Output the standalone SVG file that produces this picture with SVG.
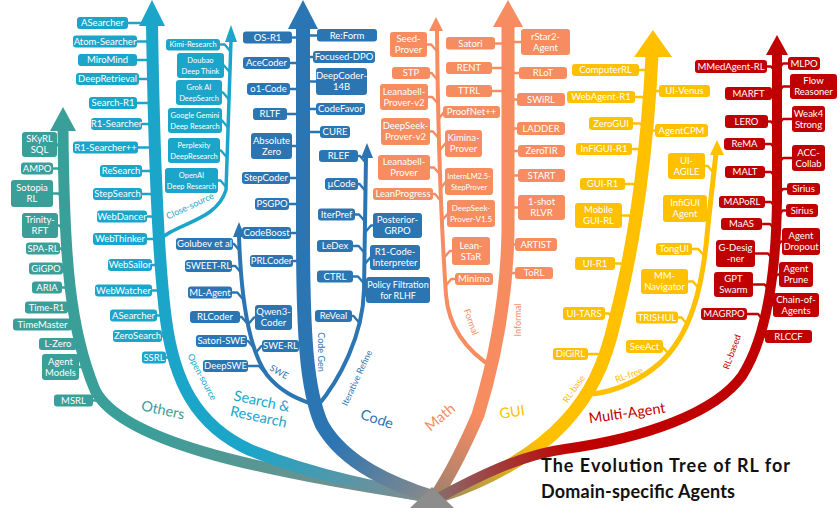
<svg xmlns="http://www.w3.org/2000/svg" width="840" height="522" viewBox="0 0 840 522">
<defs>
<style>
text{font-family:Lato,"Liberation Sans",sans-serif}
.t{fill:#fff;font-size:9.5px;text-anchor:middle}
.ts{fill:#fff;font-size:7.5px;text-anchor:middle}
.t8{fill:#fff;font-size:8px;text-anchor:middle}
.t9{fill:#fff;font-size:9px;text-anchor:middle}
rect{rx:3px;ry:3px}
.nT rect{fill:#3A9E99}.nC rect{fill:#1BA5C9}.nB rect{fill:#2B75B3}.nS rect{fill:#F68C60}.nG rect{fill:#FFC000}.nR rect{fill:#C00000}
.k{fill:none;stroke-width:2.4;stroke-linejoin:round}
.s{fill:none;stroke-linejoin:round}
.T{stroke:#3A9E99}.C{stroke:#1BA5C9}.B{stroke:#2B75B3}.S{stroke:#F68C60}.G{stroke:#FFC000}.R{stroke:#C00000}
.fT{fill:#3A9E99}.fC{fill:#1BA5C9}.fB{fill:#2B75B3}.fS{fill:#F68C60}.fG{fill:#FFC000}.fR{fill:#C00000}
.big{font-size:14.5px;text-anchor:middle}
.sm{font-size:9px;text-anchor:middle}
.title{font-size:18px;font-weight:bold;fill:#111}
</style>
<linearGradient id="gT" gradientUnits="userSpaceOnUse" x1="150" y1="430" x2="430" y2="497"><stop offset="0" stop-color="#3A9E99"/><stop offset="1" stop-color="#8a8a8a"/></linearGradient>
<linearGradient id="gC" gradientUnits="userSpaceOnUse" x1="250" y1="450" x2="430" y2="497"><stop offset="0" stop-color="#1BA5C9"/><stop offset="1" stop-color="#8a8a8a"/></linearGradient>
<linearGradient id="gB" gradientUnits="userSpaceOnUse" x1="335" y1="440" x2="432" y2="497"><stop offset="0" stop-color="#2B75B3"/><stop offset="1" stop-color="#8a8a8a"/></linearGradient>
<linearGradient id="gS" gradientUnits="userSpaceOnUse" x1="478" y1="420" x2="436" y2="496"><stop offset="0" stop-color="#F68C60"/><stop offset="1" stop-color="#a08070"/></linearGradient>
<linearGradient id="gG" gradientUnits="userSpaceOnUse" x1="545" y1="450" x2="440" y2="496"><stop offset="0" stop-color="#FFC000"/><stop offset="1" stop-color="#9a8a60"/></linearGradient>
<linearGradient id="gR" gradientUnits="userSpaceOnUse" x1="580" y1="455" x2="440" y2="497"><stop offset="0" stop-color="#C00000"/><stop offset="1" stop-color="#8a6a6a"/></linearGradient>
</defs>
<rect x="0" y="0" width="840" height="522" fill="#fff" style="rx:0"/>

<g id="connectors">
<!-- main stems -->
<path class="s" stroke="url(#gT)" stroke-width="11" d="M63 128 C64 260,70 330,95 390 C120 440,250 470,430 497"/>
<path class="s" stroke="url(#gC)" stroke-width="12" d="M152 24 C154 150,158 260,166 320 C174 380,195 425,250 450 C320 478,390 490,430 497"/>
<path class="s C" stroke-width="3.5" d="M157 242 C176 222,216 222,226 190 L231 40"/>
<path class="s" stroke="url(#gB)" stroke-width="14" d="M303 27 L303 230 C303 330,306 390,322 425 C345 465,395 485,432 497"/>
<path class="s B" stroke-width="4" d="M239 236 C241 300,249 350,267 375 C281 392,296 398,309 403"/>
<path class="s B" stroke-width="4" d="M366 157 L364 290 C363 335,340 380,316 408"/>
<path class="s" stroke="url(#gS)" stroke-width="13" d="M508 25 L508 230 C507 300,495 360,478 415 C465 445,450 475,436 496"/>
<path class="s S" stroke-width="4" d="M437 30 C438 150,443 250,446 295 C449 330,468 352,494 368"/>
<path class="s" stroke="url(#gG)" stroke-width="13" d="M652 55 C648 140,636 240,615 320 C605 365,590 395,565 422 C535 455,485 482,440 496"/>
<path class="s G" stroke-width="5" d="M716 153 L708 225 C703 290,690 335,660 363 C638 382,615 391,593 394"/>
<path class="s" stroke="url(#gR)" stroke-width="10" d="M777 53 L777 200 C776 280,765 340,742 376 C715 413,645 438,565 449 C520 455,475 478,440 497"/>
<!-- arrowheads -->
<polygon class="fT" points="63,107 76,131 50,131"/>
<polygon class="fC" points="152,0 165,26 139,26"/>
<polygon class="fC" points="231,25 237,42 225,42"/>
<polygon class="fB" points="303,0 318,29 288,29"/>
<polygon class="fB" points="239,222 245,237 233,237"/>
<polygon class="fB" points="367,143 373,158 361,158"/>
<polygon class="fS" points="436,17 443,31 429,31"/>
<polygon class="fS" points="508,0 523,27 493,27"/>
<polygon class="fG" points="653,30 672,57 634,57"/>
<polygon class="fG" points="717,140 724,155 710,155"/>
<polygon class="fR" points="777,35 788,55 766,55"/>
<polygon fill="#8d8d8d" points="410,508 432,487 454,508"/>
<!-- stubs: Others -->
<path class="k T" d="M56 144.5 H57.5 L63.5 151.5 M52 168.5 H58 L64 175.5 M52 193.5 H58.5 L64.5 200.5 M57 225.5 H59.5 L65.5 232.5 M59 248.5 H61 L67 255.5 M62 268.5 H63 L69 275.5 M61 287.5 H65 L71 294.5 M67 307.5 H67.5 L73.5 314.5 M71 324.5 L77 331.5 M76 344 L82 351 M78 367 H82.5 L88.5 374 M92 400.5 H97 L103 407.5"/>
<!-- stubs: Search open-source -->
<path class="k C" d="M127 23 H146 L152 30 M136 41.5 H146.5 L152.5 48.5 M136 60 H147 L153 67 M138 79 H147.5 L153.5 86 M136 103 H148 L154 110 M141 124 H148.5 L154.5 131 M137 147.5 H149.3 L155.3 154.5 M141 171 H150 L156 178 M141 194 H151 L157 201 M146 216.5 H152 L158 223.5 M146 239 H153.5 L159.5 246 M151 265 H155.3 L161.3 272 M151 290.5 H157.5 L163.5 297.5 M156 315.5 H160.5 L166.5 322.5 M161 336 H164 L170 343 M165 357.5 H168.5 L174.5 364.5"/>
<!-- stubs: close-source -->
<path class="k C" stroke-width="2" d="M219 44.5 H224.6 L230.6 51.5 M223 65.5 H224 L230 72.5 M221 92.5 H223 L229 99.5 M221 120.5 H222 L228 127.5 M219 150.5 H221 L227 157.5 M217 180.5 H220.5 L226.5 187.5"/>
<!-- stubs: Code gen -->
<path class="k B" d="M291 37.5 H297 L303 44.5 M289 63 H297 L303 70 M289 89 H297 L303 96 M286 114 H297 L303 121 M291 146 H297 L303 153 M289 178 H297 L303 185 M288 204 H297 L303 211 M290 233 H297 L303 240 M292 261 H297 L303 268 M318 35.5 H309 L303 42.5 M314 57 H309 L303 64 M317 81.5 H309 L303 88.5 M317 109 H309 L303 116 M321 132 H309 L303 139"/>
<!-- stubs: SWE -->
<path class="k B" d="M232 244 H234 L240 251 M231 266 H235.3 L241.3 273 M231 292.5 H237.3 L243.3 299.5 M239 317 H241.7 L247.7 324 M246 341 H248 L254 348 M247 366 H259 L265 373 M256 317.5 H254 L248 324.5 M263 346 H261.5 L255.5 353"/>
<!-- stubs: Iterative refine -->
<path class="k B" d="M357 156 H360 L366 163 M357 184 H359.5 L365.5 191 M354 214.5 H359 L365 221.5 M352 246 H358.6 L364.6 253 M352 276.5 H358 L364 283.5 M351 316 H353.5 L359.5 323 M374 225.5 H371 L365 232.5 M371 257.5 H370.4 L364.4 264.5 M367 290 L364 297"/>
<!-- stubs: Math formal -->
<path class="k S" d="M426 44.5 H431.2 L437.2 51.5 M429 73 H431.6 L437.6 80 M427 97 H432.2 L438.2 104 M429 131.5 H433 L439 138.5 M429 167.5 H434 L440 174.5 M432 194 H435 L441 201 M444 112 L438.6 119 M446 143.5 H445.4 L439.4 150.5 M446 181.5 L440.6 188.5 M448 213.5 L442 220.5 M453 251 H449.8 L443.8 258 M456 279 H451.3 L445.3 286"/>
<!-- stubs: Math informal -->
<path class="k S" d="M494 43.5 H502 L508 50.5 M491 68 H502 L508 75 M491 91 H502 L508 98 M522 42 H514 L508 49 M520 73 H514 L508 80 M518 99.5 H514 L508 106.5 M518 128.5 H514 L508 135.5 M519 151 H514 L508 158 M519 175.5 H514 L508 182.5 M519 207.5 H514 L508 214.5 M516 244.5 H513.4 L507.4 251.5 M516 273 H511.3 L505.3 280"/>
<!-- stubs: GUI -->
<path class="k G" d="M638 70 H645 L651 77 M634 97 H642.6 L648.6 104 M632 123.5 H640.5 L646.5 130.5 M631 149 H637.8 L643.8 156 M624 184 H633.9 L639.9 191 M621 215.5 H629 L635 222.5 M614 263.5 H621 L627 270.5 M604 313.5 H609 L615 320.5 M587 354 H598 L604 361 M660 91 H655.5 L649.5 98 M656 130.5 H651.5 L645.5 137.5"/>
<path class="k G" d="M704 166 H707.8 L713.8 173 M706 208.5 L709 215.5 M691 249 H698.3 L704.3 256 M687 281.5 H693 L699 288.5 M677 317.5 H681.5 L687.5 324.5 M662 346.5 L668.5 353.5"/>
<!-- stubs: Multi-agent -->
<path class="k R" d="M766 66.5 H771 L777 73.5 M771 93.5 L777 100.5 M767 121.5 H771 L777 128.5 M764 144 H771 L777 151 M764 172 H771 L777 179 M764 202 H771 L777 209 M761 224 H770 L776 231 M754 253.5 H768 L774 260.5 M752 284.5 H764.5 L770.5 291.5 M746 314 H758 L764 321 M789 63.5 H783 L777 70.5 M791 86.5 H783 L777 93.5 M793 119 H783 L777 126 M793 158 H783 L777 165 M788 189 H783 L777 196 M787 210.5 H782.7 L776.7 217.5 M783 241.5 H781 L775 248.5 M780 274.5 H777.5 L771.5 281.5 M774 305 H772 L766 312 M766 336.5 H763 L757 343.5"/>
</g>

<g id="labels">
<text class="big fT" transform="rotate(12 163 410)" x="163" y="415">Others</text>
<text class="big fC" transform="rotate(12 260 410)" x="260" y="406">Search &amp;<tspan x="260" y="422">Research</tspan></text>
<text class="sm fC" transform="rotate(62 202 377)" x="202" y="380">Open-source</text>
<text class="sm fC" transform="rotate(-25 190 206)" x="190" y="209">Close-source</text>
<text class="sm fB" transform="rotate(30 279 372)" x="279" y="375">SWE</text>
<text class="sm fB" transform="rotate(90 321 352)" x="321" y="355">Code Gen</text>
<text class="sm fB" transform="rotate(-65 357 378)" x="357" y="381">Iterative Refine</text>
<text class="big fB" transform="rotate(18 377 419)" x="377" y="424">Code</text>
<text class="sm fS" transform="rotate(70 471 322)" x="471" y="325">Formal</text>
<text class="sm fS" transform="rotate(-90 518 320)" x="518" y="323">Informal</text>
<text class="big fS" transform="rotate(-40 440 417)" x="440" y="422">Math</text>
<text class="big fG" transform="rotate(-8 512 412)" x="512" y="417">GUI</text>
<text class="sm fG" transform="rotate(-55 574 389)" x="574" y="392">RL-base</text>
<text class="sm fG" transform="rotate(-20 629 375)" x="629" y="378">RL-free</text>
<text class="big fR" transform="rotate(-8 627 413)" x="627" y="418">Multi-Agent</text>
<text class="sm fR" transform="rotate(-70 732 352)" x="732" y="355">RL-based</text>
<text class="title" x="541" y="472" textLength="249" lengthAdjust="spacing">The Evolution Tree of RL for</text>
<text class="title" x="541" y="498" textLength="194" lengthAdjust="spacing">Domain-specific Agents</text>
</g>

<!-- Others -->
<g id="n_skyrl" class="nT"><rect x="22" y="132" width="35" height="25"/><text class="t" x="39.5" y="142.4">SKyRL<tspan x="39.5" y="153.4">SQL</tspan></text></g>
<g id="n_ampo" class="nT"><rect x="21" y="162.5" width="32" height="12"/><text class="t" x="37" y="171.9">AMPO</text></g>
<g id="n_sotopia" class="nT"><rect x="11" y="180" width="42" height="27"/><text class="t" x="32" y="191.4">Sotopia<tspan x="32" y="202.4">RL</tspan></text></g>
<g id="n_trinity" class="nT"><rect x="22" y="213" width="36" height="25"/><text class="t" x="40" y="223.4">Trinity-<tspan x="40" y="234.4">RFT</tspan></text></g>
<g id="n_sparl" class="nT"><rect x="26" y="242.5" width="34" height="12"/><text class="t" x="43" y="251.9">SPA-RL</text></g>
<g id="n_gigpo" class="nT"><rect x="29" y="262.5" width="34" height="12"/><text class="t" x="46" y="271.9">GiGPO</text></g>
<g id="n_aria" class="nT"><rect x="32" y="281.5" width="30" height="12"/><text class="t" x="47" y="290.9">ARIA</text></g>
<g id="n_timer1" class="nT"><rect x="25" y="301.5" width="43" height="12"/><text class="t" x="46.5" y="310.9">Time-R1</text></g>
<g id="n_timemaster" class="nT"><rect x="13" y="318.5" width="59" height="12"/><text class="t" x="42.5" y="327.9">TimeMaster</text></g>
<g id="n_lzero" class="nT"><rect x="39" y="338" width="38" height="12"/><text class="t" x="58" y="347.4">L-Zero</text></g>
<g id="n_agentmodels" class="nT"><rect x="42" y="354" width="37" height="26"/><text class="t" x="60.5" y="364.9">Agent<tspan x="60.5" y="375.9">Models</tspan></text></g>
<g id="n_msrl" class="nT"><rect x="54" y="394.5" width="39" height="12"/><text class="t" x="73.5" y="403.9">MSRL</text></g>

<!-- Search open-source -->
<g id="n_asearcher1" class="nC"><rect x="77" y="17" width="51" height="12"/><text class="t" x="102.5" y="26.4">ASearcher</text></g>
<g id="n_atomsearcher" class="nC"><rect x="73" y="35.5" width="64" height="12"/><text class="t" x="105" y="44.9">Atom-Searcher</text></g>
<g id="n_miromind" class="nC"><rect x="78" y="54" width="59" height="12"/><text class="t" x="107.5" y="63.4">MiroMind</text></g>
<g id="n_deepretrieval" class="nC"><rect x="76" y="73" width="63" height="12"/><text class="t" x="107.5" y="82.4">DeepRetrieval</text></g>
<g id="n_searchr1" class="nC"><rect x="89" y="97" width="48" height="12"/><text class="t" x="113" y="106.4">Search-R1</text></g>
<g id="n_r1searcher" class="nC"><rect x="91" y="118" width="51" height="12"/><text class="t" x="116.5" y="127.4">R1-Searcher</text></g>
<g id="n_r1searcherpp" class="nC"><rect x="73" y="141.5" width="65" height="12"/><text class="t" x="105.5" y="150.9">R1-Searcher++</text></g>
<g id="n_research" class="nC"><rect x="100" y="165" width="42" height="12"/><text class="t" x="121" y="174.4">ReSearch</text></g>
<g id="n_stepsearch" class="nC"><rect x="93" y="188" width="49" height="12"/><text class="t" x="117.5" y="197.4">StepSearch</text></g>
<g id="n_webdancer" class="nC"><rect x="97" y="210.5" width="50" height="12"/><text class="t" x="122" y="219.9">WebDancer</text></g>
<g id="n_webthinker" class="nC"><rect x="93" y="233" width="54" height="12"/><text class="t" x="120" y="242.4">WebThinker</text></g>
<g id="n_websailor" class="nC"><rect x="108" y="259" width="44" height="12"/><text class="t" x="130" y="268.4">WebSailor</text></g>
<g id="n_webwatcher" class="nC"><rect x="95" y="284.5" width="57" height="12"/><text class="t" x="123.5" y="293.9">WebWatcher</text></g>
<g id="n_asearcher2" class="nC"><rect x="110" y="309.5" width="47" height="12"/><text class="t" x="133.5" y="318.9">ASearcher</text></g>
<g id="n_zerosearch" class="nC"><rect x="113" y="330" width="49" height="12"/><text class="t" x="137.5" y="339.4">ZeroSearch</text></g>
<g id="n_ssrl" class="nC"><rect x="142" y="351.5" width="24" height="12"/><text class="t" x="154" y="360.9">SSRL</text></g>

<!-- Search close-source -->
<g id="n_kimi" class="nC"><rect x="166" y="39" width="54" height="11.5"/><text class="ts" x="193" y="47.4">Kimi-Research</text></g>
<g id="n_doubao" class="nC"><rect x="177" y="53" width="47" height="25"/><text class="ts" x="200.5" y="62.5">Doubao<tspan x="200.5" y="74">Deep Think</tspan></text></g>
<g id="n_grok" class="nC"><rect x="176" y="80" width="46" height="25"/><text class="ts" x="199" y="89.5">Grok AI<tspan x="199" y="101">DeepSearch</tspan></text></g>
<g id="n_gemini" class="nC"><rect x="168" y="108" width="54" height="25"/><text class="ts" x="195" y="117.5">Google Gemini<tspan x="195" y="129">Deep Research</tspan></text></g>
<g id="n_perplexity" class="nC"><rect x="168" y="138" width="52" height="25"/><text class="ts" x="194" y="147.5">Perplexity<tspan x="194" y="159">DeepResearch</tspan></text></g>
<g id="n_openai" class="nC"><rect x="165" y="168" width="53" height="25"/><text class="ts" x="191.5" y="177.5">OpenAI<tspan x="191.5" y="189">Deep Research</tspan></text></g>

<!-- Code gen -->
<g id="n_osr1" class="nB"><rect x="243" y="31.5" width="49" height="12"/><text class="t" x="267.5" y="40.9">OS-R1</text></g>
<g id="n_acecoder" class="nB"><rect x="243" y="57" width="47" height="12"/><text class="t" x="266.5" y="66.4">AceCoder</text></g>
<g id="n_o1code" class="nB"><rect x="247" y="83" width="43" height="12"/><text class="t" x="268.5" y="92.4">o1-Code</text></g>
<g id="n_rltf" class="nB"><rect x="253" y="108" width="34" height="12"/><text class="t" x="270" y="117.4">RLTF</text></g>
<g id="n_absolutezero" class="nB"><rect x="251" y="133" width="41" height="26"/><text class="t" x="271.5" y="143.9">Absolute<tspan x="271.5" y="154.9">Zero</tspan></text></g>
<g id="n_stepcoder" class="nB"><rect x="242" y="172" width="48" height="12"/><text class="t" x="266" y="181.4">StepCoder</text></g>
<g id="n_psgpo" class="nB"><rect x="255" y="198" width="34" height="12"/><text class="t" x="272" y="207.4">PSGPO</text></g>
<g id="n_codeboost" class="nB"><rect x="242" y="227" width="49" height="12"/><text class="t" x="266.5" y="236.4">CodeBoost</text></g>
<g id="n_prlcoder" class="nB"><rect x="250" y="255" width="43" height="12"/><text class="t" x="271.5" y="264.4">PRLCoder</text></g>
<g id="n_reform" class="nB"><rect x="317" y="29" width="60" height="12.5"/><text class="t" x="347" y="38.6">Re:Form</text></g>
<g id="n_focuseddpo" class="nB"><rect x="313" y="51" width="62" height="12"/><text class="t" x="344" y="60.4">Focused-DPO</text></g>
<g id="n_deepcoder" class="nB"><rect x="316" y="68" width="51" height="27"/><text class="t" x="341.5" y="79.4">DeepCoder-<tspan x="341.5" y="90.4">14B</tspan></text></g>
<g id="n_codefavor" class="nB"><rect x="316" y="103" width="49" height="12"/><text class="t" x="340.5" y="112.4">CodeFavor</text></g>
<g id="n_cure" class="nB"><rect x="320" y="126" width="30" height="12"/><text class="t" x="335" y="135.4">CURE</text></g>

<!-- SWE -->
<g id="n_golubev" class="nB"><rect x="176" y="238" width="57" height="12"/><text class="t" x="204.5" y="247.4">Golubev et al</text></g>
<g id="n_sweetrl" class="nB"><rect x="185" y="260" width="47" height="12"/><text class="t" x="208.5" y="269.4">SWEET-RL</text></g>
<g id="n_mlagent" class="nB"><rect x="188" y="286.5" width="44" height="12"/><text class="t" x="210" y="295.9">ML-Agent</text></g>
<g id="n_rlcoder" class="nB"><rect x="190" y="311" width="50" height="12"/><text class="t" x="215" y="320.4">RLCoder</text></g>
<g id="n_satoriswe" class="nB"><rect x="196" y="335" width="51" height="12"/><text class="t" x="221.5" y="344.4">Satori-SWE</text></g>
<g id="n_deepswe" class="nB"><rect x="203" y="360" width="45" height="12"/><text class="t" x="225.5" y="369.4">DeepSWE</text></g>
<g id="n_qwen3coder" class="nB"><rect x="255" y="305" width="37" height="25"/><text class="t" x="273.5" y="315.4">Qwen3-<tspan x="273.5" y="326.4">Coder</tspan></text></g>
<g id="n_swerl" class="nB"><rect x="262" y="340" width="37" height="12"/><text class="t" x="280.5" y="349.4">SWE-RL</text></g>

<!-- Iterative refine -->
<g id="n_rlef" class="nB"><rect x="319" y="150" width="39" height="12"/><text class="t" x="338.5" y="159.4">RLEF</text></g>
<g id="n_mucode" class="nB"><rect x="325" y="178" width="33" height="12"/><text class="t" x="341.5" y="187.4">µCode</text></g>
<g id="n_iterpref" class="nB"><rect x="318" y="208.5" width="37" height="12"/><text class="t" x="336.5" y="217.9">IterPref</text></g>
<g id="n_ledex" class="nB"><rect x="317" y="240" width="36" height="12"/><text class="t" x="335" y="249.4">LeDex</text></g>
<g id="n_ctrl" class="nB"><rect x="317" y="270.5" width="36" height="12"/><text class="t" x="335" y="279.9">CTRL</text></g>
<g id="n_reveal" class="nB"><rect x="315" y="310" width="37" height="12"/><text class="t" x="333.5" y="319.4">ReVeal</text></g>
<g id="n_posteriorgrpo" class="nB"><rect x="373" y="213" width="49" height="25"/><text class="t" x="397.5" y="223.4">Posterior-<tspan x="397.5" y="234.4">GRPO</tspan></text></g>
<g id="n_r1codeinterpreter" class="nB"><rect x="370" y="245" width="50" height="25"/><text class="t" x="395" y="255.4">R1-Code-<tspan x="395" y="266.4">Interpreter</tspan></text></g>
<g id="n_policyfiltration" class="nB"><rect x="366" y="277" width="64" height="26"/><text class="t9" x="398" y="287.9">Policy Filtration<tspan x="398" y="298.9">for RLHF</tspan></text></g>

<!-- Math formal -->
<g id="n_seedprover" class="nS"><rect x="390" y="32" width="37" height="25"/><text class="t" x="408.5" y="42.4">Seed-<tspan x="408.5" y="53.4">Prover</tspan></text></g>
<g id="n_stp" class="nS"><rect x="392" y="67" width="38" height="12"/><text class="t" x="411" y="76.4">STP</text></g>
<g id="n_leanabellv2" class="nS"><rect x="380" y="84" width="48" height="26"/><text class="t" x="404" y="94.9">Leanabell-<tspan x="404" y="105.9">Prover-v2</tspan></text></g>
<g id="n_deepseekproverv2" class="nS"><rect x="381" y="118" width="49" height="27"/><text class="t" x="405.5" y="129.4">DeepSeek-<tspan x="405.5" y="140.4">Prover-v2</tspan></text></g>
<g id="n_leanabell" class="nS"><rect x="378" y="155" width="52" height="25"/><text class="t" x="404" y="165.4">Leanabell-<tspan x="404" y="176.4">Prover</tspan></text></g>
<g id="n_leanprogress" class="nS"><rect x="373" y="188" width="60" height="12"/><text class="t" x="403" y="197.4">LeanProgress</text></g>
<g id="n_proofnet" class="nS"><rect x="443" y="106" width="57" height="12"/><text class="t" x="471.5" y="115.4">ProofNet++</text></g>
<g id="n_kimina" class="nS"><rect x="445" y="130" width="37" height="27"/><text class="t" x="463.5" y="141.4">Kimina-<tspan x="463.5" y="152.4">Prover</tspan></text></g>
<g id="n_internlm" class="nS"><rect x="445" y="168" width="48" height="27"/><text class="ts" x="469" y="178.5">InternLM2.5-<tspan x="469" y="190">StepProver</tspan></text></g>
<g id="n_deepseekv15" class="nS"><rect x="447" y="200" width="48" height="27"/><text class="t8" x="471" y="210.5">DeepSeek-<tspan x="471" y="222">Prover-V1.5</tspan></text></g>
<g id="n_leanstar" class="nS"><rect x="452" y="237" width="38" height="28"/><text class="t" x="471" y="248.9">Lean-<tspan x="471" y="259.9">STaR</tspan></text></g>
<g id="n_minimo" class="nS"><rect x="455" y="273" width="38" height="12"/><text class="t" x="474" y="282.4">Minimo</text></g>

<!-- Math informal -->
<g id="n_satori" class="nS"><rect x="446" y="37" width="49" height="12.5"/><text class="t" x="470.5" y="46.6">Satori</text></g>
<g id="n_rent" class="nS"><rect x="446" y="62" width="46" height="12"/><text class="t" x="469" y="71.4">RENT</text></g>
<g id="n_ttrl" class="nS"><rect x="446" y="85" width="46" height="12"/><text class="t" x="469" y="94.4">TTRL</text></g>
<g id="n_rstar2" class="nS"><rect x="521" y="29" width="49" height="26"/><text class="t" x="545.5" y="39.9">rStar2-<tspan x="545.5" y="50.9">Agent</tspan></text></g>
<g id="n_rlot" class="nS"><rect x="519" y="67" width="48" height="12"/><text class="t" x="543" y="76.4">RLoT</text></g>
<g id="n_swirl" class="nS"><rect x="517" y="93" width="48" height="13"/><text class="t" x="541" y="102.9">SWiRL</text></g>
<g id="n_ladder" class="nS"><rect x="517" y="122" width="48" height="13"/><text class="t" x="541" y="131.9">LADDER</text></g>
<g id="n_zerotir" class="nS"><rect x="518" y="145" width="47" height="12"/><text class="t" x="541.5" y="154.4">ZeroTIR</text></g>
<g id="n_start" class="nS"><rect x="518" y="169" width="47" height="13"/><text class="t" x="541.5" y="178.9">START</text></g>
<g id="n_1shotrlvr" class="nS"><rect x="518" y="195" width="47" height="25"/><text class="t" x="541.5" y="205.4">1-shot<tspan x="541.5" y="216.4">RLVR</tspan></text></g>
<g id="n_artist" class="nS"><rect x="515" y="238" width="42" height="13"/><text class="t" x="536" y="247.9">ARTIST</text></g>
<g id="n_torl" class="nS"><rect x="515" y="267" width="38" height="12"/><text class="t" x="534" y="276.4">ToRL</text></g>

<!-- GUI -->
<g id="n_computerrl" class="nG"><rect x="572" y="64" width="67" height="12"/><text class="t" x="605.5" y="73.4">ComputerRL</text></g>
<g id="n_webagentr1" class="nG"><rect x="567" y="91" width="68" height="12"/><text class="t" x="601" y="100.4">WebAgent-R1</text></g>
<g id="n_zerogui" class="nG"><rect x="589" y="117" width="44" height="13"/><text class="t" x="611" y="126.9">ZeroGUI</text></g>
<g id="n_infiguir1" class="nG"><rect x="576" y="143" width="56" height="12"/><text class="t" x="604" y="152.4">InFiGUI-R1</text></g>
<g id="n_guir1" class="nG"><rect x="580" y="178" width="45" height="12"/><text class="t" x="602.5" y="187.4">GUI-R1</text></g>
<g id="n_mobileguirl" class="nG"><rect x="575" y="203" width="47" height="25"/><text class="t" x="598.5" y="213.4">Mobile<tspan x="598.5" y="224.4">GUI-RL</tspan></text></g>
<g id="n_uir1" class="nG"><rect x="575" y="257" width="40" height="13"/><text class="t" x="595" y="266.9">UI-R1</text></g>
<g id="n_uitars" class="nG"><rect x="563" y="307" width="42" height="13"/><text class="t" x="584" y="316.9">UI-TARS</text></g>
<g id="n_digirl" class="nG"><rect x="553" y="348" width="35" height="12"/><text class="t" x="570.5" y="357.4">DiGiRL</text></g>
<g id="n_uivenus" class="nG"><rect x="659" y="85" width="51" height="12"/><text class="t" x="684.5" y="94.4">UI-Venus</text></g>
<g id="n_agentcpm" class="nG"><rect x="655" y="124" width="53" height="13"/><text class="t" x="681.5" y="133.9">AgentCPM</text></g>
<g id="n_uiagile" class="nG"><rect x="668" y="153" width="37" height="26"/><text class="t" x="686.5" y="163.9">UI-<tspan x="686.5" y="174.9">AGILE</tspan></text></g>
<g id="n_infiguiagent" class="nG"><rect x="663" y="195" width="44" height="27"/><text class="t" x="685" y="206.4">InfiGUI<tspan x="685" y="217.4">Agent</tspan></text></g>
<g id="n_tongui" class="nG"><rect x="656" y="243" width="36" height="12"/><text class="t" x="674" y="252.4">TongUI</text></g>
<g id="n_mmnavigator" class="nG"><rect x="641" y="269" width="47" height="25"/><text class="t" x="664.5" y="279.4">MM-<tspan x="664.5" y="290.4">Navigator</tspan></text></g>
<g id="n_trishul" class="nG"><rect x="636" y="311.5" width="42" height="12"/><text class="t" x="657" y="320.9">TRISHUL</text></g>
<g id="n_seeact" class="nG"><rect x="626" y="340" width="37" height="13"/><text class="t" x="644.5" y="349.9">SeeAct</text></g>

<!-- Multi-Agent -->
<g id="n_mmedagent" class="nR"><rect x="695" y="60" width="72" height="13"/><text class="t" x="731" y="69.9">MMedAgent-RL</text></g>
<g id="n_marft" class="nR"><rect x="725" y="87" width="47" height="13"/><text class="t" x="748.5" y="96.9">MARFT</text></g>
<g id="n_lero" class="nR"><rect x="725" y="115" width="43" height="13"/><text class="t" x="746.5" y="124.9">LERO</text></g>
<g id="n_rema" class="nR"><rect x="724" y="138" width="41" height="12"/><text class="t" x="744.5" y="147.4">ReMA</text></g>
<g id="n_malt" class="nR"><rect x="725" y="166" width="40" height="12"/><text class="t" x="745" y="175.4">MALT</text></g>
<g id="n_maporl" class="nR"><rect x="719" y="196" width="46" height="12"/><text class="t" x="742" y="205.4">MAPoRL</text></g>
<g id="n_maas" class="nR"><rect x="721" y="218" width="41" height="12"/><text class="t" x="741.5" y="227.4">MaAS</text></g>
<g id="n_gdesigner" class="nR"><rect x="716" y="240" width="39" height="27"/><text class="t" x="735.5" y="251.4">G-Desig<tspan x="735.5" y="262.4">-ner</tspan></text></g>
<g id="n_gptswarm" class="nR"><rect x="714" y="272" width="39" height="25"/><text class="t" x="733.5" y="282.4">GPT<tspan x="733.5" y="293.4">Swarm</tspan></text></g>
<g id="n_magrpo" class="nR"><rect x="701" y="308" width="46" height="12"/><text class="t" x="724" y="317.4">MAGRPO</text></g>
<g id="n_mlpo" class="nR"><rect x="788" y="57" width="32" height="13"/><text class="t" x="804" y="66.9">MLPO</text></g>
<g id="n_flowreasoner" class="nR"><rect x="790" y="74" width="47" height="25"/><text class="t" x="813.5" y="84.4">Flow<tspan x="813.5" y="95.4">Reasoner</tspan></text></g>
<g id="n_weak4strong" class="nR"><rect x="792" y="106" width="33" height="26"/><text class="t" x="808.5" y="116.9">Weak4<tspan x="808.5" y="127.9">Strong</tspan></text></g>
<g id="n_acccollab" class="nR"><rect x="792" y="145" width="33" height="26"/><text class="t" x="808.5" y="155.9">ACC-<tspan x="808.5" y="166.9">Collab</tspan></text></g>
<g id="n_sirius1" class="nR"><rect x="787" y="183" width="33" height="12"/><text class="t" x="803.5" y="192.4">Sirius</text></g>
<g id="n_sirius2" class="nR"><rect x="786" y="204" width="32" height="13"/><text class="t" x="802" y="213.9">Sirius</text></g>
<g id="n_agentdropout" class="nR"><rect x="782" y="228" width="38" height="27"/><text class="t" x="801" y="239.4">Agent<tspan x="801" y="250.4">Dropout</tspan></text></g>
<g id="n_agentprune" class="nR"><rect x="779" y="262" width="34" height="25"/><text class="t" x="796" y="272.4">Agent<tspan x="796" y="283.4">Prune</tspan></text></g>
<g id="n_chainofagents" class="nR"><rect x="773" y="293" width="46" height="24"/><text class="t" x="796" y="302.9">Chain-of-<tspan x="796" y="313.9">Agents</tspan></text></g>
<g id="n_rlccf" class="nR"><rect x="765" y="330" width="47" height="13"/><text class="t" x="788.5" y="339.9">RLCCF</text></g>
</svg>
